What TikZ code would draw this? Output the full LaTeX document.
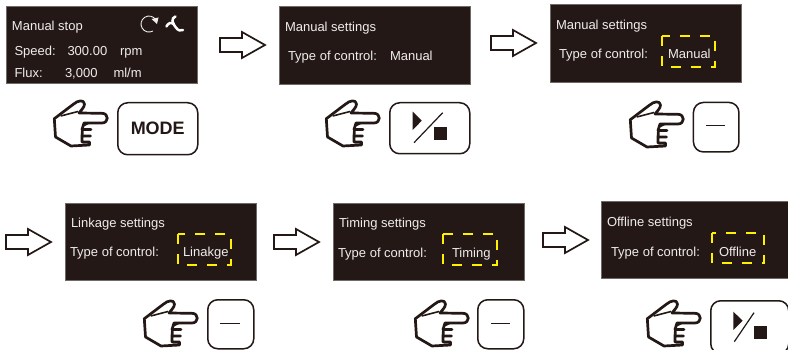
\documentclass[tikz,border=0pt]{standalone}
\usepackage{fontspec}
\setmainfont{Liberation Sans}
\definecolor{scr}{HTML}{231815}
\definecolor{scredge}{HTML}{6E6A68}
\definecolor{ink}{HTML}{231815}
\definecolor{scrtext}{HTML}{EFEDEC}
\definecolor{dashy}{HTML}{FFF000}
\tikzset{
  screen/.style={draw=scredge,line width=0.5pt,fill=scr},
  lbl/.style={anchor=base west,inner sep=0pt,outer sep=0pt,text=scrtext,font=\fontsize{13}{13}\selectfont},
  keybtn/.style={draw=ink,line width=1.5pt,rounded corners=10pt,fill=white},
  sel/.style={draw=dashy,line width=1.6pt,dash pattern=on 10pt off 10pt},
  blockarrow/.style={draw=ink,line width=1.7pt,fill=white,miter limit=10},
  pics/hand/.style={code={
    \draw[draw=ink,line width=2.7pt,fill=white,line join=round]
      (7.3,22.7) -- (26,8.5) .. controls (31,4) and (37,3.5) .. (37.5,8)
      .. controls (37.5,11.5) and (34,14) .. (32,17) -- (55,17.3)
      .. controls (62,17.3) and (62,27) .. (55,27) -- (37,27)
      -- (35,33.5) -- (44,33.5) -- (35.5,33.5) -- (35,40) -- (43.5,40) -- (35,40)
      -- (35,46) -- (42.5,46) -- (42.5,49) -- (24,50) -- (8.5,41) -- cycle;
    \draw[draw=ink,line width=1.6pt] (13.7,20) -- (31,15.5);
    \fill[ink] (36,27) -- (44,27) -- (36,31) -- cycle;
  }}
}
\newcommand{\blockar}[2]{%
  \draw[blockarrow] (#1,#2-7) -- (#1+22,#2-7) -- (#1+22,#2-13) -- (#1+45,#2)
    -- (#1+22,#2+13) -- (#1+22,#2+7) -- (#1,#2+7) -- cycle;}
\begin{document}
\begin{tikzpicture}[x=1pt,y=-1pt]
\useasboundingbox (0,0) rectangle (788,350);
\clip (0,0) rectangle (788,350);
% screens
\node[screen,minimum width=191pt,minimum height=77pt,inner sep=0pt,anchor=north west] (s1) at (6,6) {};
\node[screen,minimum width=191pt,minimum height=77.5pt,inner sep=0pt,anchor=north west] (s2) at (279,6.5) {};
\node[screen,minimum width=191pt,minimum height=77.5pt,inner sep=0pt,anchor=north west] (s3) at (550,4.5) {};
\node[screen,minimum width=191pt,minimum height=76.5pt,inner sep=0pt,anchor=north west] (s4) at (65,203.5) {};
\node[screen,minimum width=191pt,minimum height=76.5pt,inner sep=0pt,anchor=north west] (s5) at (333,203.5) {};
\node[screen,minimum width=191pt,minimum height=77pt,inner sep=0pt,anchor=north west] (s6) at (601,201) {};
% screen 1
\node[lbl] (t1a) at (12,31) {Manual stop};
\node[lbl] (t1b) at (14.5,56) {Speed:};
\node[lbl] (t1c) at (67.5,56) {300.00};
\node[lbl] (t1d) at (120,56) {rpm};
\node[lbl] (t1e) at (14.5,78) {Flux:};
\node[lbl] (t1f) at (65,78) {3,000};
\node[lbl] (t1g) at (113.5,78) {ml/m};
% rotation and fan icons
\draw[scrtext,line width=0.9pt] (155.8,19.8) arc[start angle=32,end angle=300,radius=8pt];
\fill[scrtext] (151.5,19) -- (158.5,17.5) -- (157,24) -- cycle;
\draw[white,line width=2.5pt,line cap=round] (175.5,16.5) .. controls (171,18) and (172,23) .. (175.5,27) .. controls (178,31) and (181,31) .. (183,30);
\draw[white,line width=2.5pt,line cap=round] (166.5,26.5) .. controls (168,23) and (171,22) .. (174,24);
% screen 2
\node[lbl] (t2a) at (285,32) {Manual settings};
\node[lbl] (t2b) at (288,61) {Type of control:};
\node[lbl] (t2c) at (390,61) {Manual};
% screen 3
\node[lbl] (t3a) at (556,30) {Manual settings};
\node[lbl] (t3b) at (559,59) {Type of control:};
\node[lbl] (t3c) at (668,59) {Manual};
\draw[sel] (662,36) rectangle (715,67);
% screen 4
\node[lbl] (t4a) at (71,228) {Linkage settings};
\node[lbl] (t4b) at (70,257) {Type of control:};
\node[lbl] (t4c) at (183,257) {Linakge};
\draw[sel] (178,234) rectangle (230.7,265);
% screen 5
\node[lbl] (t5a) at (339,228) {Timing settings};
\node[lbl] (t5b) at (338,258) {Type of control:};
\node[lbl] (t5c) at (452,258) {Timing};
\draw[sel] (443,234) rectangle (497,265);
% screen 6
\node[lbl] (t6a) at (607,226) {Offline settings};
\node[lbl] (t6b) at (611,256) {Type of control:};
\node[lbl] (t6c) at (719,256) {Offline};
\draw[sel] (712,233) rectangle (764,263);
% block arrows
\blockar{220}{45}
\blockar{491}{43}
\blockar{6}{242}
\blockar{274}{242}
\blockar{543}{240}
% hands
\pic at (47,96) {hand};
\pic at (319,96) {hand};
\pic at (623,97) {hand};
\pic at (137,296) {hand};
\pic at (408,296) {hand};
\pic at (640,296) {hand};
% buttons
\node[keybtn,minimum width=80pt,minimum height=52pt,inner sep=0pt,anchor=north west,text=ink,font=\fontsize{18}{18}\selectfont\bfseries] (b1) at (117,102) {MODE};
\node[keybtn,minimum width=80pt,minimum height=51pt,inner sep=0pt,anchor=north west] (b2) at (389,102) {};
\fill[ink] (412.7,111.7) -- (421.7,120.7) -- (412.7,130) -- cycle;
\draw[ink,line width=1.2pt] (442.7,112.7) -- (414,142.7);
\fill[ink] (434.3,127.3) rectangle (446.7,140);
\node[keybtn,minimum width=45.5pt,minimum height=49.5pt,inner sep=0pt,anchor=north west] (b3) at (692.7,101.7) {};
\draw[ink,line width=1pt] (706,125.5) -- (725,125.5);
\node[keybtn,minimum width=46pt,minimum height=49pt,inner sep=0pt,anchor=north west] (b4) at (207,299) {};
\draw[ink,line width=1pt] (220,323.5) -- (240,323.5);
\node[keybtn,minimum width=46pt,minimum height=49pt,inner sep=0pt,anchor=north west] (b5) at (477,299) {};
\draw[ink,line width=1pt] (491,323.5) -- (510,323.5);
\node[keybtn,minimum width=78pt,minimum height=53pt,inner sep=0pt,anchor=north west] (b6) at (710,300) {};
\fill[ink] (733.3,311.7) -- (742.7,320.7) -- (733.3,330) -- cycle;
\draw[ink,line width=1.2pt] (754,312.7) -- (734.3,341.7);
\fill[ink] (754.3,326) rectangle (766.7,339);
\end{tikzpicture}
\end{document}
